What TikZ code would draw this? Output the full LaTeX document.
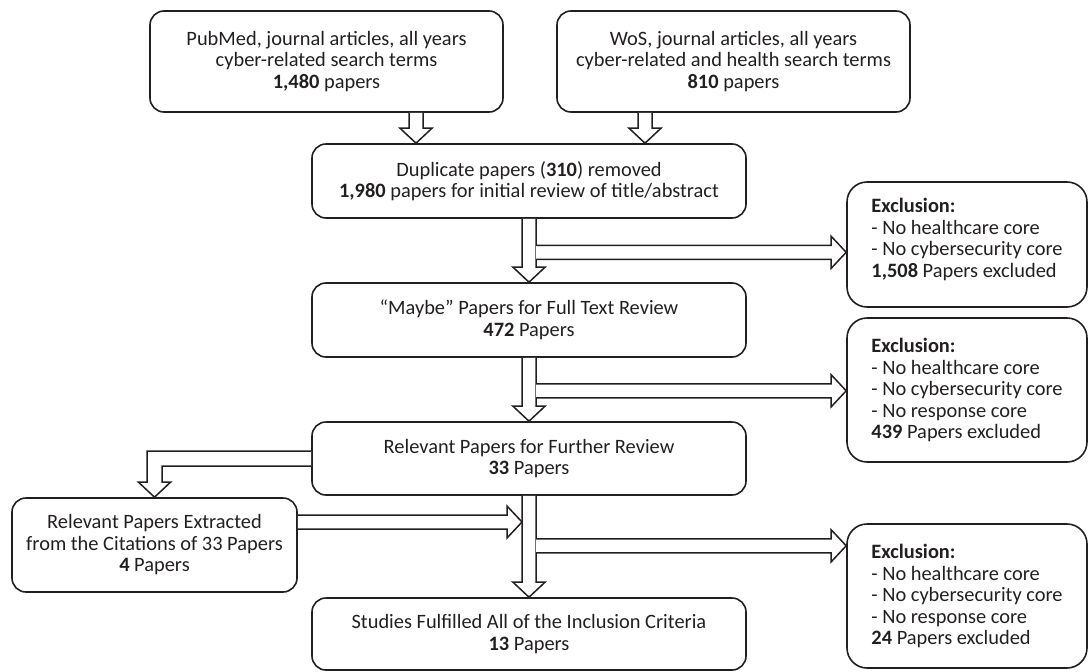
\documentclass[tikz,border=0pt]{standalone}
\usepackage{fontspec}
\setmainfont{Carlito}
\usetikzlibrary{positioning}
\usetikzlibrary{calc}
\definecolor{ink}{RGB}{35,31,32}

% hollow block arrows: #1 start, #2 tip
\newcommand\blockdown[2]{%
  \draw[blk] let \p1=(#1), \p2=(#2) in
    (\x1-7pt,\y1) -- (\x1-7pt,\y2+15pt) -- (\x1-16pt,\y2+15pt) -- (\x1,\y2)
    -- (\x1+16pt,\y2+15pt) -- (\x1+7pt,\y2+15pt) -- (\x1+7pt,\y1);
}
\newcommand\blockright[2]{%
  \draw[blk] let \p1=(#1), \p2=(#2) in
    (\x1,\y1+7pt) -- (\x2-15pt,\y1+7pt) -- (\x2-15pt,\y1+16pt) -- (\x2,\y1)
    -- (\x2-15pt,\y1-16pt) -- (\x2-15pt,\y1-7pt) -- (\x1,\y1-7pt);
}

\begin{document}
\begin{tikzpicture}[x=1pt, y=-1pt,
  stagebox/.style={draw=ink, line width=1.6pt, rounded corners=14pt, align=center,
    inner sep=0pt, text=ink, font=\fontsize{20.4}{21.5}\selectfont},
  exclbox/.style={stagebox, rounded corners=20pt, align=left, minimum width=240},
  blk/.style={draw=ink, line width=1.5pt, fill=white, line join=miter}]
\useasboundingbox (0,0) rectangle (1088,672);

% sources
\node[stagebox, minimum width=353, minimum height=101] (pubmed) at (326.5,61.5)
  {PubMed, journal articles, all years\\cyber-related search terms\\\textbf{1,480} papers};
\node[stagebox, minimum width=353, minimum height=101] (wos) at (733.5,61.5)
  {WoS, journal articles, all years\\cyber-related and health search terms\\\textbf{810} papers};

% main column
\node[stagebox, minimum width=434, minimum height=74] (dup) at (529,181)
  {Duplicate papers (\textbf{310}) removed\\\textbf{1,980} papers for initial review of title/abstract};
\node[stagebox, minimum width=434, minimum height=74] (maybe) at (529,320)
  {“Maybe” Papers for Full Text Review\\\textbf{472} Papers};
\node[stagebox, minimum width=434, minimum height=73] (relevant) at (529,458.5)
  {Relevant Papers for Further Review\\\textbf{33} Papers};
\node[stagebox, minimum width=434, minimum height=72] (studies) at (529,634)
  {Studies Fulfilled All of the Inclusion Criteria\\\textbf{13} Papers};
\node[stagebox, minimum width=285, minimum height=94] (cited) at (154.5,545)
  {Relevant Papers Extracted\\from the Citations of 33 Papers\\\textbf{4} Papers};

% exclusions
\node[exclbox, minimum height=125] (excl1) at (967,244.5)
  {\textbf{Exclusion:}\\- No healthcare core\\- No cybersecurity core\\\textbf{1,508} Papers excluded\\[-8pt]\mbox{}};
\node[exclbox, minimum height=144] (excl2) at (967,390)
  {\textbf{Exclusion:}\\- No healthcare core\\- No cybersecurity core\\- No response core\\\textbf{439} Papers excluded};
\node[exclbox, minimum height=144] (excl3) at (967,596)
  {\textbf{Exclusion:}\\- No healthcare core\\- No cybersecurity core\\- No response core\\\textbf{24} Papers excluded};

% arrows down
\coordinate (pm) at ($(pubmed.south)+(89.5,0)$);
\coordinate (ws) at ($(wos.south)+(-88.5,0)$);
\blockdown{pm}{pm |- dup.north}
\blockdown{ws}{ws |- dup.north}
\blockdown{dup.south}{maybe.north}
\blockdown{maybe.south}{relevant.north}
\blockdown{relevant.south}{studies.north}

% side branches
\coordinate (br1) at ($(dup.south)+(7,33.5)$);
\coordinate (br2) at ($(maybe.south)+(7,33)$);
\coordinate (br3) at ($(relevant.south)+(7,50)$);
\blockright{br1}{br1 -| excl1.west}
\blockright{br2}{br2 -| excl2.west}
\blockright{br3}{br3 -| excl3.west}

% citations loop
\draw[blk] let \p1=(relevant.west), \p2=(cited.north) in
  (\x1,\y1+7.5pt) -- (\x2-7.5pt,\y1+7.5pt) -- (\x2-7.5pt,\y2+15pt) -- (\x2-16pt,\y2+15pt)
  -- (\x2,\y2) -- (\x2+16pt,\y2+15pt) -- (\x2+7.5pt,\y2+15pt) -- (\x2+7.5pt,\y1-7.5pt)
  -- (\x1,\y1-7.5pt);
\coordinate (ct) at ($(cited.east)+(0,-23)$);
\coordinate (stemleft) at ($(relevant.south)+(-7,0)$);
\blockright{ct}{ct -| stemleft}

\end{tikzpicture}
\end{document}
